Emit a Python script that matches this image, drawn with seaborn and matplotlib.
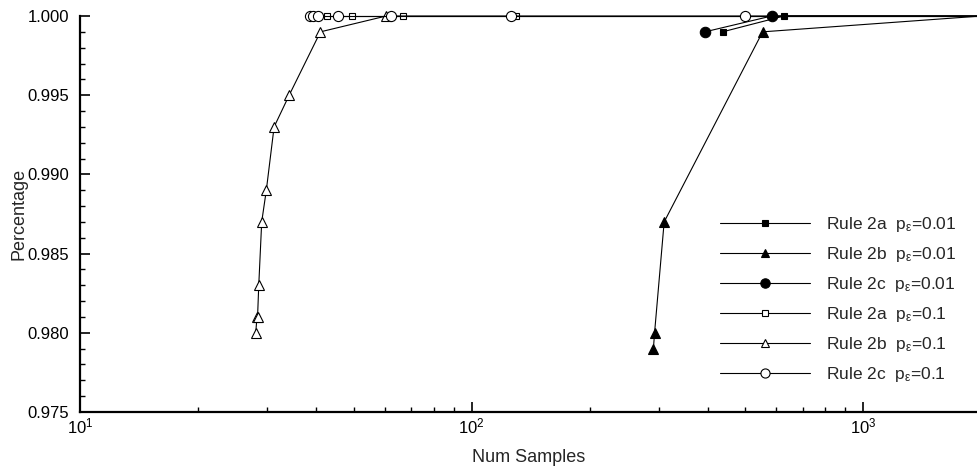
import matplotlib
matplotlib.use("Agg")
import matplotlib.pyplot as plt
import seaborn as sns
from matplotlib.ticker import MultipleLocator, LogLocator, NullFormatter, FormatStrFormatter

# Sample counts and success percentages per rule / p_epsilon setting
r2a_001_n = [437, 627, 2000]
r2a_001_pct = [0.999, 1.000, 1.000]

r2b_001_n = [291, 293, 310, 553, 2000]
r2b_001_pct = [0.979, 0.980, 0.987, 0.999, 1.000]

r2c_001_n = [394, 583, 2000]
r2c_001_pct = [0.999, 1.000, 1.000]

r2a_01_n = [42.6, 49.5, 66.8, 130, 2000]
r2a_01_pct = [1.000, 1.000, 1.000, 1.000, 1.000]

r2b_01_n = [28.1, 28.3, 28.4, 28.6, 29.1, 29.9, 31.3, 34.2, 41.1, 60.5, 2000]
r2b_01_pct = [0.980, 0.981, 0.981, 0.983, 0.987, 0.989, 0.993, 0.995, 0.999, 1.000, 1.000]

r2c_01_n = [38.6, 39.3, 40.6, 45.6, 62.1, 126, 500, 2000]
r2c_01_pct = [1.000, 1.000, 1.000, 1.000, 1.000, 1.000, 1.000, 1.000]

labels = [
    r"Rule 2a  p$_\varepsilon$=0.01",
    r"Rule 2b  p$_\varepsilon$=0.01",
    r"Rule 2c  p$_\varepsilon$=0.01",
    r"Rule 2a  p$_\varepsilon$=0.1",
    r"Rule 2b  p$_\varepsilon$=0.1",
    r"Rule 2c  p$_\varepsilon$=0.1",
]

series = [
    (r2a_001_n, r2a_001_pct),
    (r2b_001_n, r2b_001_pct),
    (r2c_001_n, r2c_001_pct),
    (r2a_01_n, r2a_01_pct),
    (r2b_01_n, r2b_01_pct),
    (r2c_01_n, r2c_01_pct),
]

# marker, size, face colour
styles = [
    ("s", 5.0, "black"),
    ("^", 6.5, "black"),
    ("o", 7.5, "black"),
    ("s", 4.8, "white"),
    ("^", 7.0, "white"),
    ("o", 7.3, "white"),
]

sns.set_style("ticks")
plt.rcParams["font.family"] = ["Liberation Sans", "DejaVu Sans"]
plt.rcParams["mathtext.fontset"] = "custom"
plt.rcParams["mathtext.rm"] = "Liberation Sans"
plt.rcParams["mathtext.it"] = "Liberation Sans:italic"
plt.rcParams["mathtext.default"] = "regular"

fig = plt.figure(figsize=(9.77, 4.75), dpi=100)
ax = fig.add_axes([80 / 977, 1 - 412 / 475, 1 - 80 / 977, (412 - 16) / 475])

for (n, pct), label, (mk, ms, fc) in zip(series, labels, styles):
    # the last point runs off the right edge, so it carries no marker
    sns.lineplot(
        x=n, y=pct, ax=ax, sort=False, estimator=None,
        color="black", linewidth=0.8,
        marker=mk, markersize=ms, markerfacecolor=fc,
        markeredgecolor="black", markeredgewidth=0.8,
        markevery=list(range(len(n) - 1)),
        label=label, clip_on=False,
    )

ax.set_xscale("log")
ax.set_xlim(10, 1950)
ax.set_ylim(0.975, 1.000)

ax.yaxis.set_major_locator(MultipleLocator(0.005))
ax.yaxis.set_minor_locator(MultipleLocator(0.001))
ax.yaxis.set_major_formatter(FormatStrFormatter("%.3f"))
ax.xaxis.set_major_locator(LogLocator(base=10))
ax.xaxis.set_minor_locator(LogLocator(base=10, subs=range(2, 10)))
ax.xaxis.set_minor_formatter(NullFormatter())

ax.tick_params(which="major", direction="in", length=7, width=1.2,
               labelsize=12, color="black", labelcolor="black")
ax.tick_params(axis="y", which="major", pad=8)
ax.tick_params(which="minor", direction="in", length=3.5, width=1.0,
               color="black")

sns.despine(ax=ax)
for side in ("left", "bottom"):
    ax.spines[side].set_linewidth(1.6)
    ax.spines[side].set_color("black")

ax.set_xlabel("Num Samples", fontsize=13, labelpad=9)
ax.set_ylabel("Percentage", fontsize=13, labelpad=0)

handles, lbls = ax.get_legend_handles_labels()
ax.legend(
    handles, lbls, loc="upper left",
    bbox_to_anchor=(720 / 977, 1 - 215 / 475), bbox_transform=fig.transFigure,
    frameon=False, fontsize=12.5, handlelength=5.2, handletextpad=0.9,
    labelspacing=0.63, borderpad=0, borderaxespad=0, markerscale=0.9,
)

fig.savefig("out.png", dpi=100)
